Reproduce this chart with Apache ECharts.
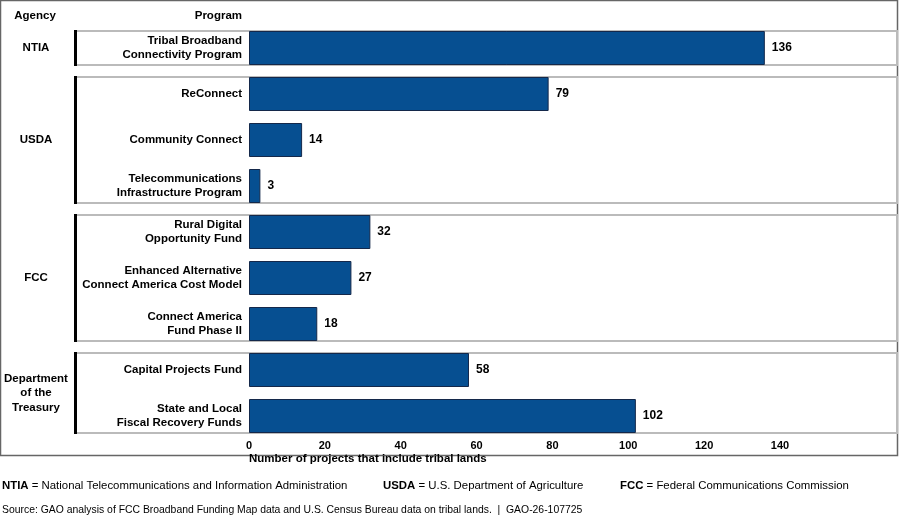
<!DOCTYPE html>
<html>
<head>
<meta charset="utf-8">
<script src="https://cdn.jsdelivr.net/npm/echarts@6/dist/echarts.min.js"></script>
<style>
html,body{margin:0;padding:0;background:#fff;}
#chart{width:900px;height:518px;}
</style>
</head>
<body>
<div id="chart"></div>
<script>
// data
var programs = ['Tribal Broadband\nConnectivity Program', 'ReConnect', 'Community Connect',
	'Telecommunications\nInfrastructure Program', 'Rural Digital\nOpportunity Fund',
	'Enhanced Alternative\nConnect America Cost Model', 'Connect America\nFund Phase II',
	'Capital Projects Fund', 'State and Local\nFiscal Recovery Funds'];
var projects = [136, 79, 14, 3, 32, 27, 18, 58, 102];
var agencies = ['NTIA', 'USDA', 'FCC', 'Department\nof the\nTreasury'];
var agencyFirst = [0, 1, 4, 7];
var agencyLast = [0, 3, 6, 8];
var xTicks = [0, 20, 40, 60, 80, 100, 120, 140];

var FONT = 'Liberation Sans, Arial, sans-serif';
var BAR_H = 34;

var chart = echarts.init(document.getElementById('chart'));

var option = {
	animation: false,
	grid: {left: 249, right: 120, top: 25, bottom: 79},
	xAxis: {
		type: 'value',
		min: xTicks[0],
		max: xTicks[xTicks.length - 1],
		interval: 20,
		axisLine: {show: false},
		axisTick: {show: false},
		splitLine: {show: false},
		axisLabel: {margin: 1, color: '#000', fontFamily: FONT, fontWeight: 'bold', fontSize: 11}
	},
	yAxis: {
		type: 'category',
		inverse: true,
		data: programs,
		axisLine: {show: false},
		axisTick: {show: false},
		axisLabel: {margin: 7, color: '#000', fontFamily: FONT, fontWeight: 'bold', fontSize: 11.5, lineHeight: 14, align: 'right'}
	},
	series: [{
		type: 'bar',
		data: projects,
		barWidth: BAR_H,
		z: 3,
		itemStyle: {color: '#064f91', borderColor: '#14284a', borderWidth: 1},
		label: {show: true, position: 'right', distance: 7, color: '#000',
			fontFamily: FONT, fontWeight: 'bold', fontSize: 12}
	}]
};
chart.setOption(option);

// group boxes, agency names and notes
var els = [];
els.push({type: 'rect', shape: {x: 0.5, y: 0.5, width: 897, height: 455},
	style: {fill: null, stroke: '#666', lineWidth: 1.5}, z: 0});
for (var i = 0; i < agencies.length; i++) {
	var y0 = chart.convertToPixel({yAxisIndex: 0}, agencyFirst[i]) - BAR_H / 2;
	var y1 = chart.convertToPixel({yAxisIndex: 0}, agencyLast[i]) + BAR_H / 2;
	els.push({type: 'rect', shape: {x: 75, y: y0, width: 822, height: y1 - y0},
		style: {fill: null, stroke: '#bbb', lineWidth: 2}, z: 1});
	els.push({type: 'rect', shape: {x: 74, y: y0 - 1, width: 3, height: y1 - y0 + 2},
		style: {fill: '#000'}, z: 1});
	els.push({type: 'text', x: 36, y: (y0 + y1) / 2,
		style: {text: agencies[i], align: 'center', verticalAlign: 'middle', fill: '#000',
			font: 'bold 11.5px ' + FONT, lineHeight: 14.5}, z: 1});
}
els.push({type: 'text', x: 35, y: 16, style: {text: 'Agency', align: 'center', verticalAlign: 'middle',
	fill: '#000', font: 'bold 11.5px ' + FONT}});
els.push({type: 'text', x: 242, y: 16, style: {text: 'Program', align: 'right', verticalAlign: 'middle',
	fill: '#000', font: 'bold 11.5px ' + FONT}});
els.push({type: 'text', x: chart.convertToPixel({xAxisIndex: 0}, 0), y: 459,
	style: {text: 'Number of projects that include tribal lands', align: 'left', verticalAlign: 'middle',
		fill: '#000', font: 'bold 11.5px ' + FONT}});

var notes = [['NTIA', 'National Telecommunications and Information Administration', 2],
	['USDA', 'U.S. Department of Agriculture', 383],
	['FCC', 'Federal Communications Commission', 620]];
notes.forEach(function(n){
	els.push({type: 'text', x: n[2], y: 486, style: {
		text: '{b|' + n[0] + '} = ' + n[1], verticalAlign: 'middle', fill: '#000',
		font: '11.4px ' + FONT, rich: {b: {fontWeight: 'bold', fontSize: 11.4, fontFamily: FONT}}}});
});
els.push({type: 'text', x: 2, y: 510, style: {
	text: 'Source: GAO analysis of FCC Broadband Funding Map data and U.S. Census Bureau data on tribal lands.  |  GAO-26-107725',
	verticalAlign: 'middle', fill: '#000', font: '10.4px ' + FONT}});

chart.setOption({graphic: els});
</script>
</body>
</html>
